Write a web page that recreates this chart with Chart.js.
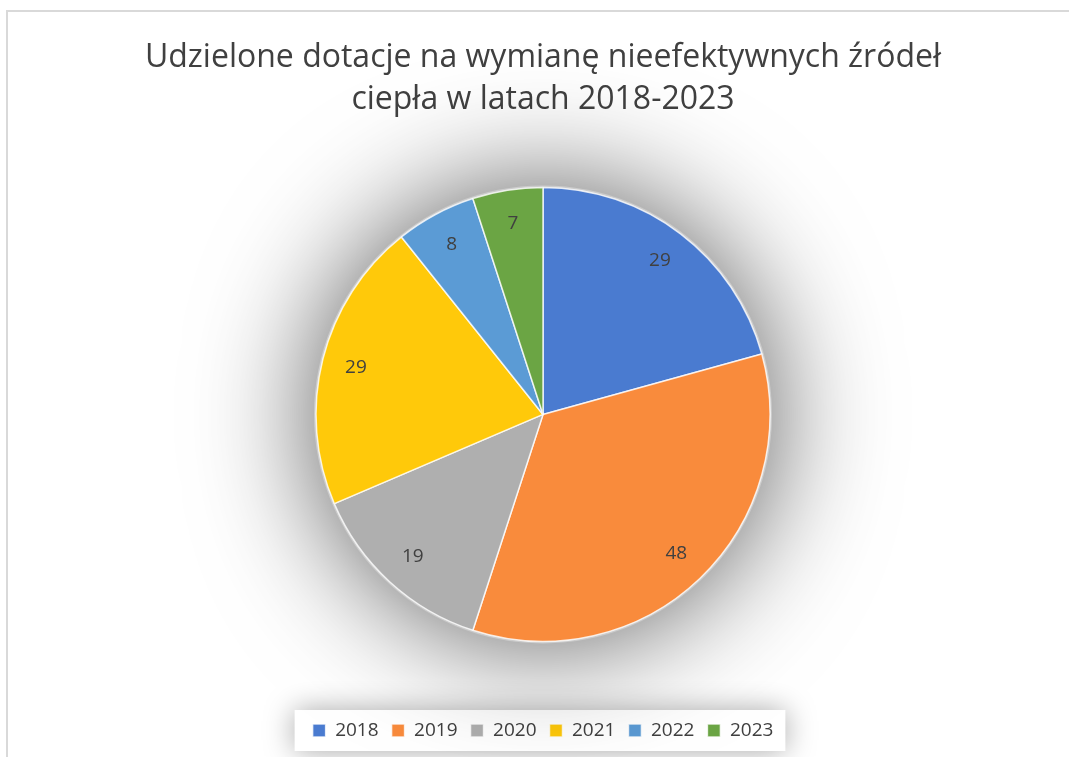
<!DOCTYPE html>
<html>
<head>
<meta charset="utf-8">
<script src="https://cdn.jsdelivr.net/npm/chart.js@4.4.1/dist/chart.umd.min.js"></script>
<style>
  html, body { margin: 0; padding: 0; background: #fff; overflow: hidden; }
  #frame {
    position: absolute; left: 6px; top: 10px;
    width: 1070px; height: 760px;
    border-left: 2px solid #d9d9d9; border-top: 2px solid #d9d9d9;
    background: #fff;
  }
  #chart { display: block; }
</style>
</head>
<body>
<div id="frame"><canvas id="chart" width="1070" height="745"></canvas></div>
<script>
// data
const years  = ['2018', '2019', '2020', '2021', '2022', '2023'];
const grants = [29, 48, 19, 29, 8, 7];
const colors = ['#4A7BD0', '#F98B3C', '#AFAFAF', '#FFC90A', '#5B9BD5', '#6BA544'];
const titleLines = ['Udzielone dotacje na wymianę nieefektywnych źródeł', 'ciepła w latach 2018-2023'];

const FONT = '"Open Sans", sans-serif';

// soft grey shadow behind the pie
const pieShadow = {
  id: 'pieShadow',
  beforeDatasetsDraw(chart) {
    const arc = chart.getDatasetMeta(0).data[0];
    if (!arc) return;
    const ctx = chart.ctx;
    ctx.save();
    ctx.shadowColor = 'rgba(0,0,0,0.65)';
    ctx.shadowBlur = 120;
    ctx.fillStyle = '#ccc';
    ctx.beginPath();
    ctx.arc(arc.x, arc.y, arc.outerRadius + 2, 0, Math.PI * 2);
    ctx.fill();
    ctx.restore();
  }
};

// value labels inside slices
const sliceLabels = {
  id: 'sliceLabels',
  afterDatasetsDraw(chart) {
    const ctx = chart.ctx;
    ctx.save();
    ctx.font = '19px ' + FONT;
    ctx.fillStyle = '#404040';
    ctx.textAlign = 'center';
    ctx.textBaseline = 'middle';
    chart.getDatasetMeta(0).data.forEach((arc, i) => {
      const mid = (arc.startAngle + arc.endAngle) / 2;
      const r = arc.outerRadius * 0.85;
      ctx.fillText(String(grants[i]), arc.x + Math.cos(mid) * r, arc.y + Math.sin(mid) * r);
    });
    ctx.restore();
  }
};

// white box with shadow behind the legend
const legendBox = {
  id: 'legendBox',
  beforeDraw(chart) {
    const lg = chart.legend;
    if (!lg || !lg.legendHitBoxes.length) return;
    const hb = lg.legendHitBoxes;
    const left = hb[0].left - 18;
    const right = hb[hb.length - 1].left + hb[hb.length - 1].width + 12;
    const top = hb[0].top - 11;
    const h = hb[0].height + 22;
    const ctx = chart.ctx;
    ctx.save();
    ctx.shadowColor = 'rgba(0,0,0,0.35)';
    ctx.shadowBlur = 30;
    ctx.fillStyle = '#fff';
    ctx.fillRect(left, top, right - left, h);
    ctx.restore();
  }
};

new Chart(document.getElementById('chart'), {
  type: 'pie',
  data: {
    labels: years,
    datasets: [{
      data: grants,
      backgroundColor: colors,
      borderColor: 'rgba(255,255,255,0.8)',
      borderWidth: 1.5,
      radius: 227
    }]
  },
  options: {
    responsive: false,
    animation: false,
    layout: { padding: { top: 0, bottom: 7, left: 0, right: 0 } },
    plugins: {
      title: {
        display: true,
        text: titleLines,
        color: '#404040',
        font: { family: FONT, size: 32, weight: 'normal', lineHeight: 1.31 },
        padding: { top: 25, bottom: 0 }
      },
      legend: {
        position: 'bottom',
        labels: {
          color: '#404040',
          font: { family: FONT, size: 19 },
          boxWidth: 13,
          boxHeight: 13,
          padding: 13
        }
      },
      tooltip: { enabled: false }
    }
  },
  plugins: [legendBox, pieShadow, sliceLabels]
});
</script>
</body>
</html>
